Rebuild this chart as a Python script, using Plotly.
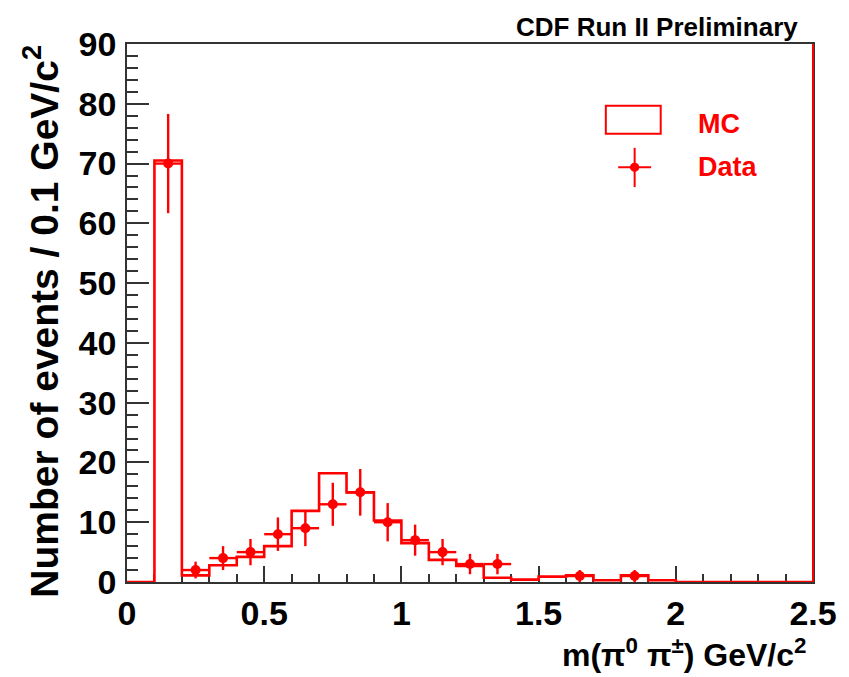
import plotly.graph_objects as go

# ---- data ----
bin_low_edges = [0.0, 0.1, 0.2, 0.3, 0.4, 0.5, 0.6, 0.7, 0.8, 0.9, 1.0, 1.1, 1.2,
                 1.3, 1.4, 1.5, 1.6, 1.7, 1.8, 1.9, 2.0, 2.1, 2.2, 2.3, 2.4]
bin_width = 0.1
mc_counts = [0.0, 70.5, 1.1, 2.8, 4.2, 6.0, 11.9, 18.2, 15.0, 10.3, 6.5, 3.7, 2.7,
             0.7, 0.4, 0.9, 1.1, 0.3, 1.1, 0.3, 0.0, 0.0, 0.0, 0.0, 0.0]

data_x = [0.15, 0.25, 0.35, 0.45, 0.55, 0.65, 0.75, 0.85, 0.95, 1.05, 1.15, 1.25, 1.35, 1.65, 1.85]
data_counts = [70, 2, 4, 5, 8, 9, 13, 15, 10, 7, 5, 3, 3, 1, 1]
data_err = [8.3, 1.4, 2.0, 2.2, 2.8, 3.0, 3.6, 3.9, 3.2, 2.6, 2.2, 1.7, 1.7, 1.0, 1.0]

x_tickvals = [0, 0.5, 1, 1.5, 2, 2.5]
x_ticktext = ["0", "0.5", "1", "1.5", "2", "2.5"]
y_tickvals = [0, 10, 20, 30, 40, 50, 60, 70, 80, 90]

RED = "#ff0000"
AX = "#333333"
FONT = "Liberation Sans, Arial, Helvetica, sans-serif"

fig = go.Figure()

# MC histogram outline (step)
step_x = bin_low_edges + [bin_low_edges[-1] + bin_width]
step_y = mc_counts + [mc_counts[-1]]
fig.add_trace(go.Scatter(
    x=step_x, y=step_y, mode="lines", line=dict(color=RED, width=2.6, shape="hv"),
    showlegend=False, hoverinfo="skip", cliponaxis=False))

# Data points with error bars
fig.add_trace(go.Scatter(
    x=data_x, y=data_counts, mode="markers",
    marker=dict(color=RED, size=10, symbol="circle"),
    error_y=dict(type="data", array=data_err, color=RED, thickness=2.4, width=0),
    error_x=dict(type="constant", value=bin_width / 2, color=RED, thickness=2.4, width=0),
    showlegend=False))

fig.update_layout(
    width=849, height=677,
    margin=dict(l=127, r=33, t=44, b=95),
    paper_bgcolor="white", plot_bgcolor="white",
    font=dict(family=FONT, color="black", weight="bold"),
    showlegend=False,
)

fig.update_xaxes(
    range=[0, 2.5], showgrid=False, zeroline=False,
    showline=True, linecolor=AX, linewidth=1.5, mirror=True,
    ticks="inside", ticklen=16, tickwidth=1.5, tickcolor=AX,
    tickvals=x_tickvals, ticktext=x_ticktext,
    tickfont=dict(size=34, family=FONT, color="black", weight="bold"),
    ticklabelstandoff=0,
    minor=dict(ticks="inside", dtick=0.1, ticklen=8, tickwidth=1.5, tickcolor=AX, showgrid=False),
    layer="below traces",
)
fig.update_yaxes(
    range=[0, 90], showgrid=False, zeroline=False,
    showline=True, linecolor=AX, linewidth=1.5, mirror=True,
    ticks="inside", ticklen=22, tickwidth=1.5, tickcolor=AX,
    tickvals=y_tickvals,
    tickfont=dict(size=34, family=FONT, color="black", weight="bold"),
    ticklabelstandoff=2,
    minor=dict(ticks="inside", dtick=2, ticklen=11, tickwidth=1.5, tickcolor=AX, showgrid=False),
    layer="below traces",
)

# red right frame edge as in the reference
fig.add_shape(type="line", xref="paper", yref="paper", x0=1, x1=1, y0=0, y1=1,
              line=dict(color=RED, width=2))

# axis titles
fig.add_annotation(
    text="Number of events / 0.1 GeV/c<sup>2</sup>", xref="paper", yref="paper",
    x=-0.126, y=0.485, xanchor="center", yanchor="middle", textangle=-90, showarrow=False,
    font=dict(size=39, family=FONT, color="black", weight="bold"))
fig.add_annotation(
    text="m(π<sup>0</sup> π<sup>±</sup>) GeV/c<sup>2</sup>", xref="paper", yref="paper",
    x=0.992, y=-0.132, xanchor="right", yanchor="middle", showarrow=False,
    font=dict(size=32, family=FONT, color="black", weight="bold"))
fig.add_annotation(
    text="CDF Run II Preliminary", xref="paper", yref="paper",
    x=0.9815, y=1.032, xanchor="right", yanchor="middle", showarrow=False,
    font=dict(size=26, family=FONT, color="black", weight="bold"))

# legend (drawn manually to match ROOT style)
fig.add_shape(type="rect", xref="paper", yref="paper", x0=0.698, x1=0.778, y0=0.833, y1=0.885,
              line=dict(color=RED, width=2), fillcolor="white")
fig.add_annotation(text="MC", xref="paper", yref="paper", x=0.830, y=0.851,
                   xanchor="left", yanchor="middle", showarrow=False,
                   font=dict(size=27, family=FONT, color=RED, weight="bold"))
fig.add_shape(type="line", xref="paper", yref="paper", x0=0.740, x1=0.740, y0=0.734, y1=0.807,
              line=dict(color=RED, width=2))
fig.add_shape(type="line", xref="paper", yref="paper", x0=0.716, x1=0.764, y0=0.771, y1=0.771,
              line=dict(color=RED, width=2))
fig.add_shape(type="circle", xref="paper", yref="paper", x0=0.734, x1=0.746, y0=0.7635, y1=0.7785,
              line=dict(color=RED, width=1), fillcolor=RED)
fig.add_annotation(text="Data", xref="paper", yref="paper", x=0.830, y=0.771,
                   xanchor="left", yanchor="middle", showarrow=False,
                   font=dict(size=27, family=FONT, color=RED, weight="bold"))

fig.write_html("out.html")
